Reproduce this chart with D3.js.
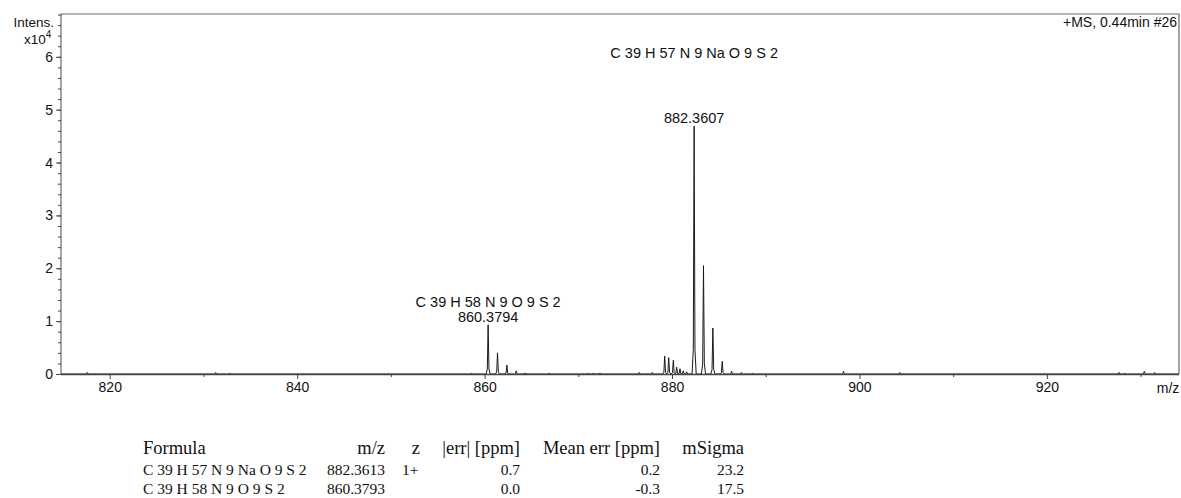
<!DOCTYPE html>
<html>
<head>
<meta charset="utf-8">
<script src="https://cdn.jsdelivr.net/npm/d3@7/dist/d3.min.js"></script>
<style>
  html, body { margin: 0; padding: 0; background: #fff; }
  svg { display: block; }
  .sans { font-family: "Liberation Sans", Arial, Helvetica, sans-serif; }
  .serif { font-family: "Liberation Serif", "Times New Roman", serif; }
</style>
</head>
<body>
<svg id="chart" width="1181" height="498"></svg>
<script>
// ---- Data ----
// Isotope peaks (m/z, intensity in counts)
const peakMz = [860.3794, 861.38, 862.38, 863.38,
                879.22, 879.65, 880.14, 880.50, 880.85, 881.20, 881.57,
                882.3607, 883.36, 884.36, 885.36, 886.36];
const peakIntensity = [9300, 4000, 1700, 600,
                       3400, 3100, 2600, 1300, 1000, 600, 400,
                       46900, 20500, 8700, 2400, 500];
// Small baseline noise peaks
const noiseMz = [817.6, 831.3, 832.8, 858.6, 864.3, 866.9, 871.0, 871.6, 872.3,
                 876.5, 877.9, 887.4, 888.6, 898.3, 904.3, 927.7, 928.3, 930.4, 931.5];
const noiseIntensity = [300, 300, 200, 200, 200, 200, 200, 200, 200,
                        300, 300, 300, 200, 500, 300, 300, 200, 500, 300];

const xTicks = [820, 840, 860, 880, 900, 920];
const xMinorTicks = [830, 850, 870, 890, 910, 930];
const yTicks = [0, 1, 2, 3, 4, 5, 6];           // x10^4
const yMinorTicks = d3.range(0, 6.81, 0.2);

const annotations = [
  { mz: 882.3607, text: "C 39 H 57 N 9 Na O 9 S 2", dy: 0 },
  { mz: 882.3607, text: "882.3607", dy: 1 },
  { mz: 860.3794, text: "C 39 H 58 N 9 O 9 S 2", dy: 0 },
  { mz: 860.3794, text: "860.3794", dy: 1 }
];

const tableHeader = ["Formula", "m/z", "z", "|err| [ppm]", "Mean err [ppm]", "mSigma"];
const tableRows = [
  ["C 39 H 57 N 9 Na O 9 S 2", "882.3613", "1+", "0.7", "0.2", "23.2"],
  ["C 39 H 58 N 9 O 9 S 2", "860.3793", "", "0.0", "-0.3", "17.5"]
];

// ---- Layout ----
const svg = d3.select("#chart");
const pL = 61, pR = 1179, pT = 14, pB = 374;

const x = d3.scaleLinear().domain([814.8, 934.1]).range([pL, pR]);
const y = d3.scaleLinear().domain([0, 68100]).range([pB, pT]);

svg.append("rect").attr("width", 1181).attr("height", 498).attr("fill", "#fff");

svg.append("defs").append("clipPath").attr("id", "clip")
  .append("rect").attr("x", pL).attr("y", pT).attr("width", pR - pL).attr("height", pB - pT + 1);

// spectrum path
const allPeaks = peakMz.map((m, i) => ({ m, v: peakIntensity[i] }))
  .concat(noiseMz.map((m, i) => ({ m, v: noiseIntensity[i] })))
  .sort((a, b) => a.m - b.m);
const hw = 0.22;
const pts = [[x.domain()[0], 0]];
allPeaks.forEach(p => {
  pts.push([p.m - hw, 0], [p.m - hw * 0.4, p.v * 0.1], [p.m, p.v], [p.m + hw * 0.4, p.v * 0.1], [p.m + hw, 0]);
});
pts.push([x.domain()[1], 0]);
const line = d3.line().x(d => x(d[0])).y(d => y(d[1]));
svg.append("path").attr("clip-path", "url(#clip)")
  .attr("d", line(pts)).attr("fill", "none").attr("stroke", "#1a1a1a").attr("stroke-width", 1);

// frame
svg.append("path")
  .attr("d", `M${pL},${pB} V${pT} H${pR} V${pB}`)
  .attr("fill", "none").attr("stroke", "#6a6a6a").attr("stroke-width", 1.2);

// x axis
const xAxis = svg.append("g").attr("transform", `translate(0,${pB})`)
  .call(d3.axisBottom(x).tickValues(xTicks).tickFormat(d3.format("d")).tickSize(5).tickPadding(3));
xAxis.select(".domain").attr("d", `M${pL},0.5H${pR}`).attr("stroke", "#444").attr("stroke-width", 1.6);
xAxis.selectAll(".tick line").attr("stroke", "#444");
xAxis.selectAll(".tick text").attr("font-size", 14).attr("fill", "#111").attr("font-family", "Liberation Sans, Arial, sans-serif");
const xMinor = svg.append("g").attr("transform", `translate(0,${pB})`)
  .call(d3.axisBottom(x).tickValues(xMinorTicks).tickFormat("").tickSize(3));
xMinor.select(".domain").remove();
xMinor.selectAll(".tick line").attr("stroke", "#444");

svg.append("text").attr("class", "sans").attr("x", 1168).attr("y", 393)
  .attr("text-anchor", "middle").attr("font-size", 14).attr("fill", "#111").text("m/z");

// y axis
const yAxis = svg.append("g").attr("transform", `translate(${pL},0)`)
  .call(d3.axisLeft(y).tickValues(yTicks.map(d => d * 1e4)).tickFormat(d => d / 1e4).tickSize(5).tickPadding(3));
yAxis.select(".domain").remove();
yAxis.selectAll(".tick line").attr("stroke", "#444");
yAxis.selectAll(".tick text").attr("font-size", 14).attr("fill", "#111").attr("font-family", "Liberation Sans, Arial, sans-serif");
const yMinor = svg.append("g").attr("transform", `translate(${pL},0)`)
  .call(d3.axisLeft(y).tickValues(yMinorTicks.map(d => d * 1e4)).tickFormat("").tickSize(3));
yMinor.select(".domain").remove();
yMinor.selectAll(".tick line").attr("stroke", "#444");

svg.append("text").attr("class", "sans").attr("x", 54).attr("y", 26.5)
  .attr("text-anchor", "end").attr("font-size", 13.5).attr("fill", "#111").text("Intens.");
const xt = svg.append("text").attr("class", "sans").attr("x", 24).attr("y", 44)
  .attr("font-size", 13.5).attr("fill", "#111");
xt.append("tspan").text("x10");
xt.append("tspan").attr("font-size", 10).attr("dy", -6).text("4");

svg.append("text").attr("class", "sans").attr("x", 1177).attr("y", 27)
  .attr("text-anchor", "end").attr("font-size", 14).attr("fill", "#111").text("+MS, 0.44min #26");

// peak annotations
const peakTop = m => peakIntensity[peakMz.indexOf(m)];
annotations.forEach(a => {
  const v = peakTop(a.mz);
  let yy = y(v) - 3 - (1 - a.dy) * 15;
  if (a.text.startsWith("C 39 H 57")) yy = 58;
  svg.append("text").attr("class", "sans")
    .attr("x", x(a.mz)).attr("y", yy)
    .attr("text-anchor", "middle").attr("font-size", 14.5).attr("fill", "#111").text(a.text);
});

// table
const colX = [143, 385, 420, 520, 660, 744];
const colAnchor = ["start", "end", "end", "end", "end", "end"];
const headerY = 454, rowY = [475, 494];
tableHeader.forEach((h, i) => {
  svg.append("text").attr("class", "serif").attr("x", colX[i]).attr("y", headerY)
    .attr("text-anchor", colAnchor[i]).attr("font-size", 18.5).attr("fill", "#111").text(h);
});
tableRows.forEach((r, j) => {
  r.forEach((c, i) => {
    if (!c) return;
    const isZ = i === 2;
    svg.append("text").attr("class", "serif").attr("x", isZ ? 402 : colX[i]).attr("y", rowY[j])
      .attr("text-anchor", isZ ? "start" : colAnchor[i]).attr("font-size", 15.5).attr("fill", "#111").text(c);
  });
});
</script>
</body>
</html>
